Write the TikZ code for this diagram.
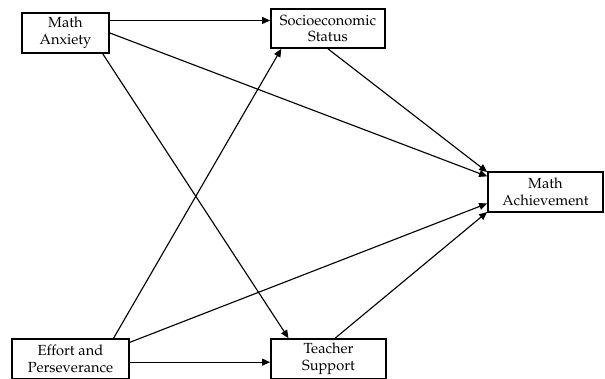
\documentclass[tikz,border=0pt]{standalone}
\usepackage[T1]{fontenc}
\usepackage{mathpazo}
\usetikzlibrary{arrows.meta,calc}
\begin{document}
\begin{tikzpicture}[x=0.75pt,y=-0.75pt,
  box/.style={draw, line width=1.3pt, minimum width=#1, minimum height=30pt,
    align=center, inner sep=0pt, font=\fontsize{11}{12.4}\selectfont},
  arr/.style={-{Triangle[length=6pt,width=5.2pt]}, line width=0.85pt}]
\clip (0,0) rectangle (605,378);
\fill[white] (0,0) rectangle (605,378);
\node[box=65.25pt] (ma) at (65.5,33) {Math\\Anxiety};
\node[box=85.5pt, minimum height=29.25pt] (ses) at (328,28.5) {Socioeconomic\\Status};
\node[box=86.25pt] (ach) at (545.5,192) {Math\\Achievement};
\node[box=87.75pt] (eff) at (70.5,359) {Effort and\\Perseverance};
\node[box=86.25pt] (ts) at (328.5,359) {Teacher\\Support};
% MA -> SES
\coordinate (a1) at ($(ma.north east)!0.2!(ma.south east)$);
\draw[arr] (a1) -- (a1 -| ses.west);
% MA -> Achievement
\draw[arr] (ma.east) -- ($(ach.north west)!0.125!(ach.south west)$);
% MA -> Teacher Support
\draw[arr] ($(ma.south west)!0.92!(ma.south east)$) -- ($(ts.north west)!0.157!(ts.north east)$);
% SES -> Achievement
\draw[arr] (ses.south) -- ($(ach.north west)!0.02!(ach.south west)$);
% Effort -> SES
\draw[arr] ($(eff.north west)!0.863!(eff.north east)$) -- ($(ses.south west)!0.096!(ses.south east)$);
% Effort -> Achievement
\draw[arr] ($(eff.north east)!0.1!(eff.south east)$) -- ($(ach.north west)!0.775!(ach.south west)$);
% Effort -> Teacher Support
\coordinate (e1) at ($(eff.north east)!0.575!(eff.south east)$);
\draw[arr] (e1) -- (e1 -| ts.west);
% Teacher Support -> Achievement
\draw[arr] ($(ts.north west)!0.557!(ts.north east)$) -- ($(ach.north west)!0.98!(ach.south west)$);
\end{tikzpicture}
\end{document}
